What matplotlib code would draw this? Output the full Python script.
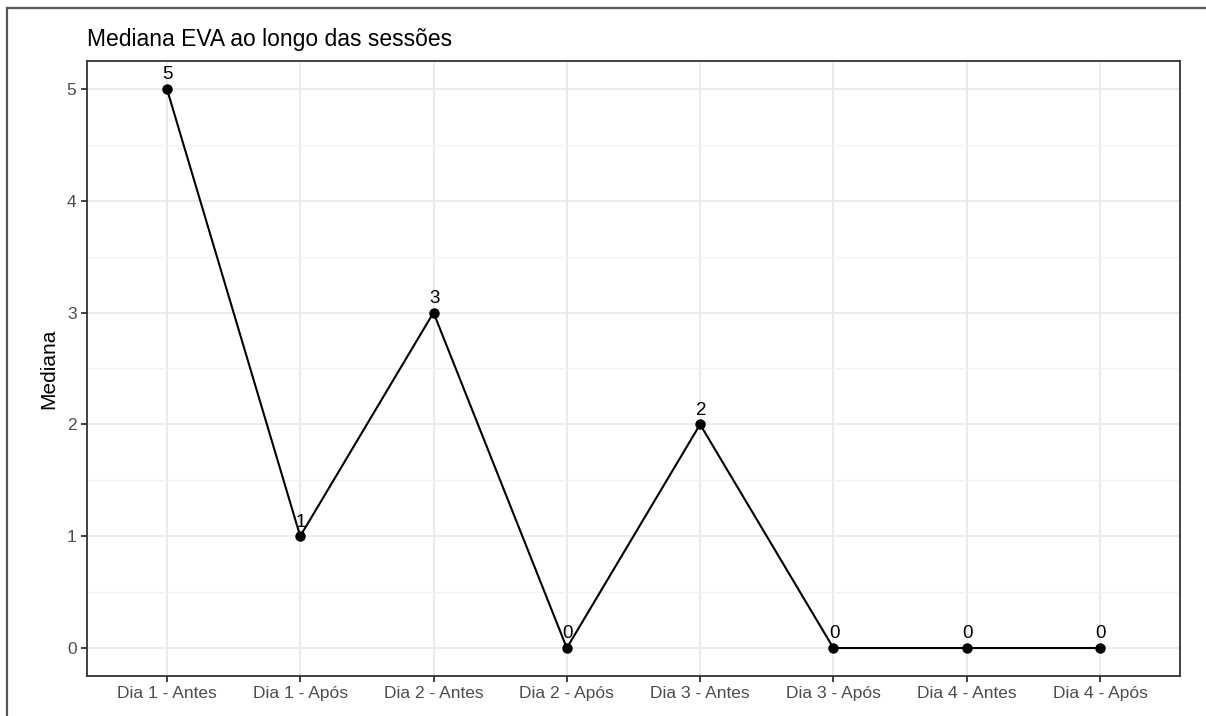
import matplotlib.pyplot as plt
from matplotlib.patches import Rectangle
from matplotlib.ticker import MultipleLocator

plt.rcParams['font.family'] = ['Liberation Sans', 'DejaVu Sans']

sessoes = ["Dia 1 - Antes", "Dia 1 - Após", "Dia 2 - Antes", "Dia 2 - Após",
           "Dia 3 - Antes", "Dia 3 - Após", "Dia 4 - Antes", "Dia 4 - Após"]
mediana = [5, 1, 3, 0, 2, 0, 0, 0]

fig = plt.figure(figsize=(12.06, 7.16), dpi=100)
ax = fig.add_axes([0.0721, 0.0559, 0.9063, 0.8589])

# moldura externa (cortada a direita e embaixo)
fig.patches.append(Rectangle((0.0058, -0.1), 1.2, 1.089, transform=fig.transFigure,
                             fill=False, edgecolor='#555555', linewidth=1.6))

x = list(range(len(sessoes)))
ax.plot(x, mediana, color='black', linewidth=1.5, marker='o', markersize=6.5, zorder=3)
for xi, yi in zip(x, mediana):
    ax.annotate(str(yi), (xi, yi), xytext=(0.5, 4), textcoords='offset points',
                ha='center', va='bottom', fontsize=13.5, color='black', zorder=4)

ax.set_xlim(-0.6, len(sessoes) - 1 + 0.6)
ax.set_ylim(-0.25, 5.25)
ax.set_xticks(x)
ax.set_xticklabels(sessoes)
ax.yaxis.set_major_locator(MultipleLocator(1))
ax.yaxis.set_minor_locator(MultipleLocator(0.5))

ax.grid(True, which='major', color='#EBEBEB', linewidth=1.4)
ax.grid(True, which='minor', axis='y', color='#F2F2F2', linewidth=0.8)
ax.set_axisbelow(True)
for s in ax.spines.values():
    s.set_color('#333333')
    s.set_linewidth(1.3)

ax.tick_params(axis='both', which='major', labelsize=12.5, labelcolor='#4D4D4D',
               color='#333333', length=4, width=1.3)
ax.tick_params(axis='y', which='minor', length=0)

ax.set_ylabel("Mediana", fontsize=15, labelpad=6)
ax.set_title("Mediana EVA ao longo das sessões", fontsize=16.5, loc='left', pad=11)

fig.savefig("out.png", dpi=100)
